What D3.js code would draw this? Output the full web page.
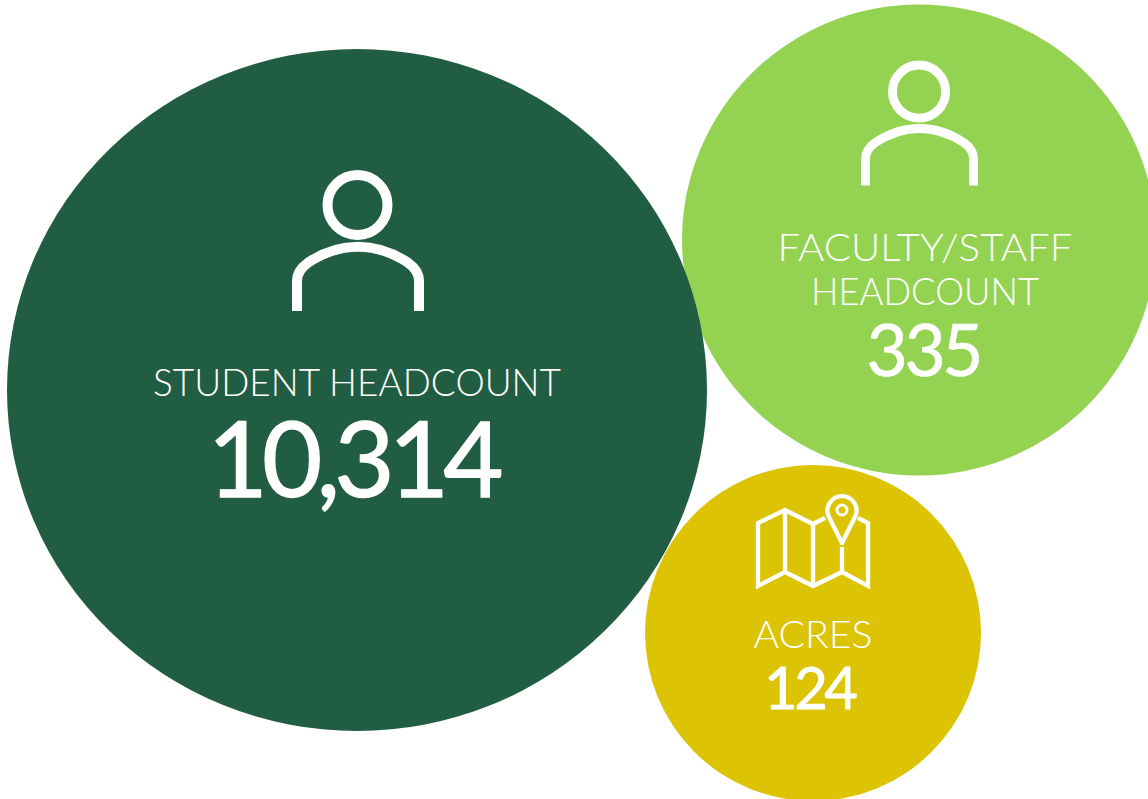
<!DOCTYPE html>
<html><head><meta charset="utf-8">
<script src="https://cdnjs.cloudflare.com/ajax/libs/d3/7.8.5/d3.min.js"></script>
<style>html,body{margin:0;padding:0;background:#fff}svg{display:block}</style>
</head><body><div id="c"></div>
<script>
const categories = ["faculty", "student", "acres"];
const labelLines = [["FACULTY/STAFF", "HEADCOUNT"], ["STUDENT HEADCOUNT"], ["ACRES"]];
const values = [335, 10314, 124];
const colors = ["#94d352", "#215d43", "#dcc304"];
const icons = ["person", "person", "map"];

const W = 1148, H = 799;
const svg = d3.select("#c").append("svg").attr("width", W).attr("height", H).attr("viewBox", `0 0 ${W} ${H}`);
const cx = d3.scaleOrdinal(categories, [919, 357, 813]);
const cy = d3.scaleOrdinal(categories, [240, 390, 633]);
const rx = d3.scaleOrdinal(categories, [237, 350, 168]);
const ry = d3.scaleOrdinal(categories, [235.5, 341, 168]);
const fmt = d3.format(",");
const font = "'Lato','Open Sans',sans-serif";

const layout = {
  faculty: {lines:[[925,261,37,295],[925,305,37,228]], num:[925,376,71,117,0.7], icon:[919.5,128.5,0.886]},
  student: {lines:[[357,396,37,408]], num:[355.5,497,104,296,1.3], icon:[358,246.7,1]},
  acres:   {lines:[[813,648,37,119]], num:[811,709,58,94,0.8], icon:null}
};

const g = svg.selectAll("g.b").data(categories).join("g").attr("class","b");
g.append("ellipse").attr("cx",d=>cx(d)).attr("cy",d=>cy(d)).attr("rx",d=>rx(d)).attr("ry",d=>ry(d))
 .attr("fill",(d,i)=>colors[i]);

g.each(function(d,i){
  const s = d3.select(this), L = layout[d];
  labelLines[i].forEach((t,k)=>{
    const [x,y,fs,w] = L.lines[k];
    s.append("text").attr("x",x).attr("y",y).attr("text-anchor","middle")
     .attr("font-family",font).attr("font-weight",300).attr("font-size",fs).attr("fill","#fff")
     .attr("textLength",w).attr("lengthAdjust","spacingAndGlyphs").text(t);
  });
  const [x,y,fs,w,sw] = L.num;
  s.append("text").attr("x",x).attr("y",y).attr("text-anchor","middle")
   .attr("font-family",font).attr("font-weight",400).attr("font-size",fs).attr("fill","#fff")
   .attr("stroke","#fff").attr("stroke-width",sw)
   .attr("textLength",w).attr("lengthAdjust","spacing").text(fmt(values[i]));
  if(icons[i]==="person"){
    const [ix,iy,k]=L.icon;
    const p=s.append("g").attr("transform",`translate(${ix},${iy}) scale(${k})`)
      .attr("fill","none").attr("stroke","#fff").attr("stroke-width",10);
    p.append("circle").attr("cx",-0.5).attr("cy",-41.7).attr("r",30);
    p.append("path").attr("d","M-61,64.3V34C-61,26 -57,21 -50,16C-35,6 -18,0 0,0C18,0 35,6 50,16C57,21 61,26 61,34V64.3");
  } else {
    const m=s.append("g").attr("fill","none").attr("stroke","#fff").attr("stroke-width",4.3);
    m.append("path").attr("d","M825,518L813,524L785,510L758,523V586L785,572L813,586L842,572L868,586V523L858,518");
    m.append("path").attr("d","M785,510V572M813,524V586M842,547V572");
    m.append("path").attr("d","M842,543L829,517A14.5,14.5 0 1 1 855,517Z").attr("stroke-linejoin","round");
    m.append("circle").attr("cx",842).attr("cy",510).attr("r",5).attr("stroke-width",3);
  }
});
</script></body></html>
